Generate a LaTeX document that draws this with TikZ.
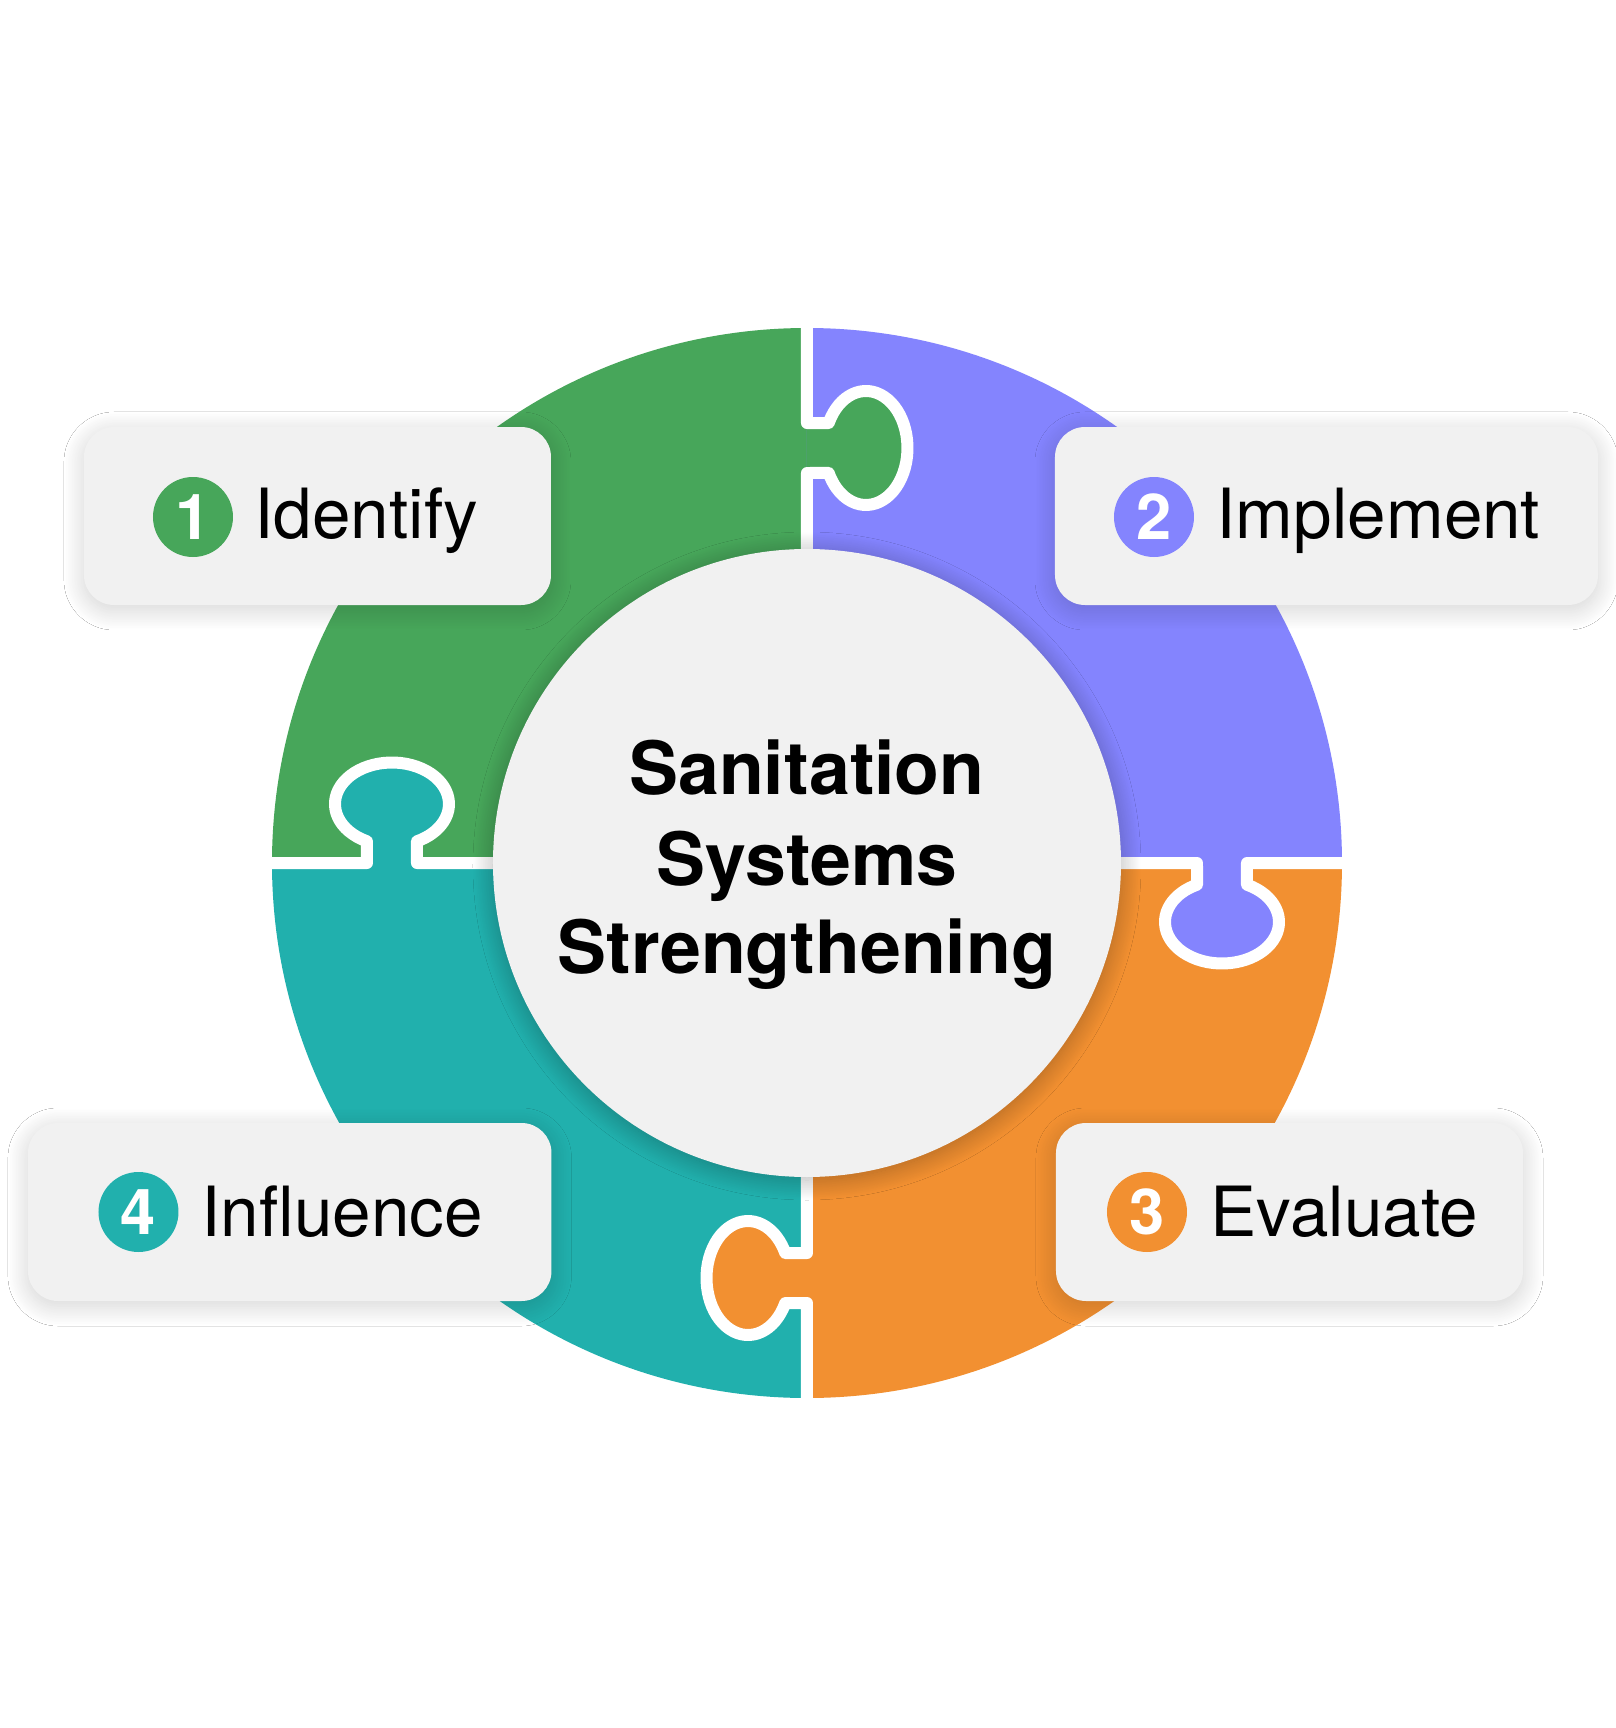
\documentclass[tikz,border=0pt]{standalone}
\usepackage{fontspec}
\setmainfont{TeX Gyre Heros}
\usetikzlibrary{shadows.blur}
\definecolor{pgreen}{RGB}{71,166,90}
\definecolor{ppurple}{RGB}{132,132,254}
\definecolor{porange}{RGB}{242,144,49}
\definecolor{pteal}{RGB}{33,176,173}
\definecolor{pbox}{RGB}{241,241,241}
\tikzset{
  gapline/.style={draw=white, line width=0.12cm, line join=round, line cap=butt},
  labelbox/.style={fill=pbox, rounded corners=0.3cm, inner sep=0pt,
    blur shadow={shadow xshift=0cm, shadow yshift=-0.05cm, shadow blur radius=0.2cm, shadow blur steps=30, shadow opacity=18}},
  badge/.style={circle, minimum size=0.8cm, inner sep=0pt, text=white,
    font=\fontsize{18}{18}\selectfont\bfseries},
  labeltext/.style={anchor=base west, inner sep=0pt, font=\fontsize{19.7}{23}\selectfont},
  titletext/.style={anchor=base, inner sep=0pt, font=\fontsize{20.9}{25}\selectfont\bfseries}
}
\newcommand{\tabfill}{(0,4.40) -- (0.217,4.40) arc[start angle=154, end angle=-154, x radius=0.415cm, y radius=0.57cm] -- (0,3.90) -- cycle}
\newcommand{\tabline}{(0,5.50) -- (0,4.40) -- (0.217,4.40) arc[start angle=154, end angle=-154, x radius=0.415cm, y radius=0.57cm] -- (0,3.90) -- (0,3.0)}
\begin{document}
\begin{tikzpicture}
\useasboundingbox[fill=white] (-8.07,-8.65) rectangle (8.09,8.63);
% quadrants
\fill[pgreen] (0,0) -- (90:5.35) arc[start angle=90, end angle=180, radius=5.35cm] -- cycle;
\fill[ppurple] (0,0) -- (0:5.35) arc[start angle=0, end angle=90, radius=5.35cm] -- cycle;
\fill[porange] (0,0) -- (-90:5.35) arc[start angle=-90, end angle=0, radius=5.35cm] -- cycle;
\fill[pteal] (0,0) -- (180:5.35) arc[start angle=180, end angle=270, radius=5.35cm] -- cycle;
% tabs
\begin{scope}[rotate=0]
  \fill[pgreen] \tabfill;
  \draw[gapline] \tabline;
\end{scope}
\begin{scope}[rotate=-90]
  \fill[ppurple] \tabfill;
  \draw[gapline] \tabline;
\end{scope}
\begin{scope}[rotate=180]
  \fill[porange] \tabfill;
  \draw[gapline] \tabline;
\end{scope}
\begin{scope}[rotate=90]
  \fill[pteal] \tabfill;
  \draw[gapline] \tabline;
\end{scope}
% centre
\node[circle, fill=pbox, minimum size=6.28cm, inner sep=0pt,
  blur shadow={shadow xshift=0cm, shadow yshift=-0.03cm, shadow blur radius=0.2cm, shadow blur steps=30, shadow opacity=30}] (hub) at (0,0) {};
\node[titletext] (t1) at (0,0.69) {Sanitation};
\node[titletext] (t2) at (0,-0.225) {Systems};
\node[titletext] (t3) at (0,-1.10) {Strengthening};
% label boxes
\node[labelbox, minimum width=4.67cm, minimum height=1.78cm] (b1) at (-4.895,3.47) {};
\node[labelbox, minimum width=5.43cm, minimum height=1.78cm] (b2) at (5.195,3.47) {};
\node[labelbox, minimum width=4.67cm, minimum height=1.78cm] (b3) at (4.825,-3.49) {};
\node[labelbox, minimum width=5.235cm, minimum height=1.78cm] (b4) at (-5.1725,-3.49) {};
% badges
\node[badge, fill=pgreen] (n1) at (-6.14,3.46) {1};
\node[badge, fill=ppurple] (n2) at (3.47,3.46) {2};
\node[badge, fill=porange] (n3) at (3.40,-3.49) {3};
\node[badge, fill=pteal] (n4) at (-6.685,-3.49) {4};
% label texts
\node[labeltext] (l1) at (-5.53,3.25) {Identify};
\node[labeltext] (l2) at (4.09,3.25) {Implement};
\node[labeltext] (l3) at (4.03,-3.737) {Evaluate};
\node[labeltext] (l4) at (-6.06,-3.737) {Influence};
\end{tikzpicture}
\end{document}
